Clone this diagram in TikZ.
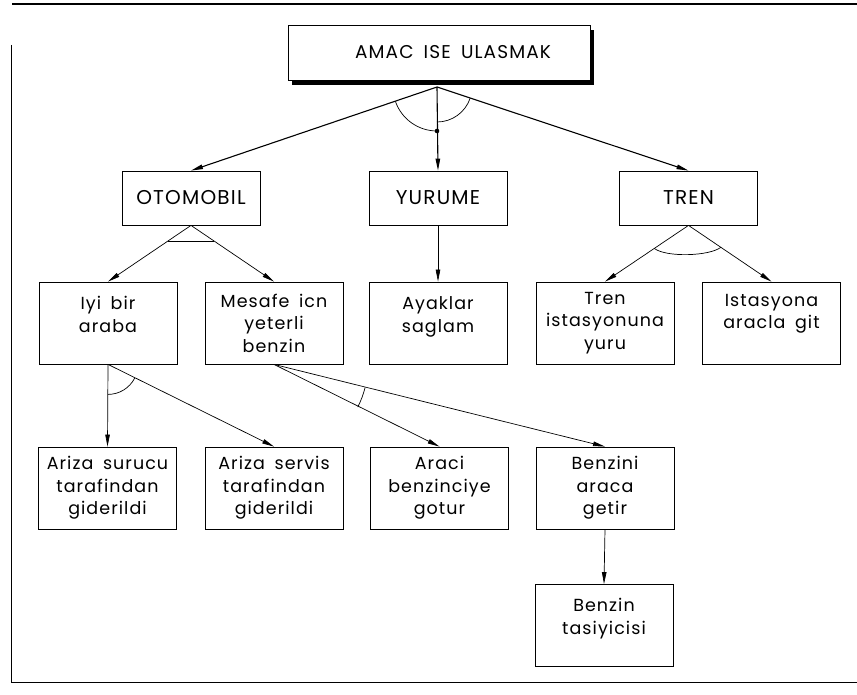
\documentclass[tikz,border=0pt]{standalone}
\usepackage{fontspec}
\setmainfont{Poppins}[LetterSpace=6]
\usetikzlibrary{arrows.meta,calc,shadows}
\newcommand{\wsp}{\hspace{0.55em}}
% an empty, shortened last line that pushes short texts a little above the middle
\newcommand{\tail}[1]{\\[-#1]\strut}

\begin{document}
\begin{tikzpicture}[x=1pt,y=-1pt,
  lbl/.style={font=\fontsize{17.5}{22.5}\selectfont,align=center,inner sep=0pt},
  capsfont/.style={font=\fontsize{20}{22}\selectfont},
  box/.style={lbl,draw,line width=0.8pt,minimum width=138pt,minimum height=82pt},
  smallbox/.style={box,capsfont,minimum height=54pt},
  topbox/.style={draw,line width=0.9pt,fill=white,minimum width=302pt,minimum height=55pt,
    inner sep=0pt,font=\fontsize{18.5}{22}\selectfont,
    drop shadow={shadow xshift=4pt,shadow yshift=-5pt,opacity=1,fill=black}},
  tip/.style={-{Triangle[length=12pt,width=4.5pt]}},
  link/.style={tip,line width=0.7pt},
  mainlink/.style={tip,line width=1.1pt},
  andarc/.style={line width=0.7pt}
]
\useasboundingbox (0,0) rectangle (857,695);

% page frame
\draw[line width=1.3pt] (12,4) -- (857,4);
\draw[line width=1pt] (11,45) -- (11,682) -- (857,682);

% goal
\node[topbox] (goal) at (439,52.5) {\hspace*{28pt}AMAC\wsp ISE\wsp ULASMAK};
\coordinate (apex) at (437,87);

% means of transport
\node[smallbox] (oto) at (191,198) {OTOMOBIL};
\node[smallbox] (yur) at (438,198) {YURUME};
\node[smallbox] (tren) at (688.5,198) {TREN};

% conditions
\node[box] (iyi) at (108,323) {Iyi\wsp bir\\araba\tail{12pt}};
\node[box] (mes) at (274,323) {Mesafe\wsp icn\\yeterli\\benzin};
\node[box] (aya) at (438,323) {Ayaklar\\saglam\tail{12pt}};
\node[box] (tis) at (605,323) {Tren\\istasyonuna\\yuru};
\node[box] (ist) at (771.5,323) {Istasyona\\aracla\wsp git\tail{6pt}};

% sub-conditions
\node[box] (sur) at (107.5,488) {Ariza\wsp surucu\\tarafindan\\giderildi};
\node[box] (ser) at (274,488) {Ariza\wsp servis\\tarafindan\\giderildi};
\node[box] (arc) at (439.5,488) {Araci\\benzinciye\\gotur};
\node[box] (bgt) at (605,488) {Benzini\\araca\hspace*{30pt}\\getir};
\node[box] (tas) at (604,625.5) {Benzin\\tasiyicisi\tail{11pt}};

% connectors
\draw[mainlink] (apex) -- (oto.north);
\draw[mainlink] (apex) -- (yur.north);
\draw[mainlink] (apex) -- (tren.north);

\draw[link] (oto.south) -- (iyi.north);
\draw[link] (oto.south) -- (mes.north);
\draw[link] (yur.south) -- (aya.north);
\draw[link] (tren.south) -- (tis.north);
\draw[link] (tren.south) -- (ist.north);
\draw[link] (iyi.south) -- (sur.north);
\draw[link] (iyi.south) -- (ser.north);
\draw[link] (mes.south) -- (arc.north);
\draw[link] (mes.south) -- (bgt.north);
\draw[link] (bgt.south) -- (tas.north);

% AND arcs
\draw[andarc] ([shift={(160.9:44)}]apex) arc[start angle=160.9,end angle=90,radius=44];
\draw[andarc] ([shift={(90:35)}]apex) arc[start angle=90,end angle=18.6,radius=35];
\fill ([shift={(90:44)}]apex) circle (2.3);
\draw[andarc] ($(oto.south)!0.28!(iyi.north)$) -- ($(oto.south)!0.28!(mes.north)$);
\draw[andarc] ($(tren.south)!0.41!(tis.north)$) .. controls +(12,9) and +(-12,9) .. ($(tren.south)!0.39!(ist.north)$);
\draw[andarc] ([shift={(90:30)}]iyi.south) arc[start angle=90,end angle=26.8,radius=30];
\draw[andarc] ([shift={(27:94)}]mes.south) arc[start angle=27,end angle=14.2,radius=94];
\end{tikzpicture}
\end{document}
